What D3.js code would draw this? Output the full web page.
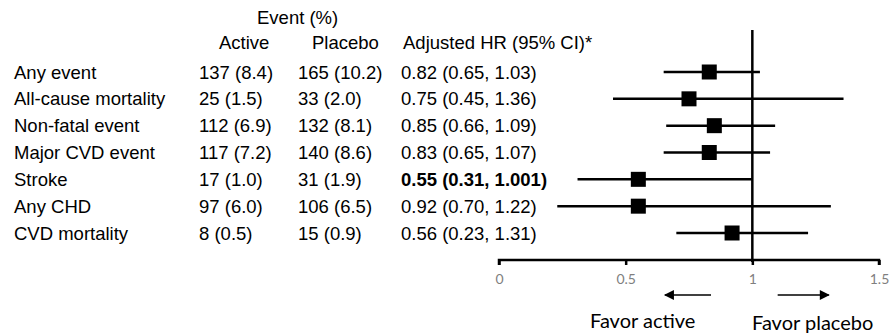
<!DOCTYPE html>
<html>
<head>
<meta charset="utf-8">
<script src="https://cdn.jsdelivr.net/npm/d3@7"></script>
<style>
  body { margin: 0; background: #fff; }
  .tbl { font-family: "Liberation Sans", Arial, sans-serif; font-size: 18.5px; fill: #000; }
  .calib { font-family: Lato, "Open Sans", sans-serif; }
</style>
</head>
<body>
<div id="chart"></div>
<script>
// row labels and table columns
let outcomes = ['Any event', 'All-cause mortality', 'Non-fatal event', 'Major CVD event', 'Stroke', 'Any CHD', 'CVD mortality'];
let activeEvents = ['137 (8.4)', '25 (1.5)', '112 (6.9)', '117 (7.2)', '17 (1.0)', '97 (6.0)', '8 (0.5)'];
let placeboEvents = ['165 (10.2)', '33 (2.0)', '132 (8.1)', '140 (8.6)', '31 (1.9)', '106 (6.5)', '15 (0.9)'];
let hrText = ['0.82 (0.65, 1.03)', '0.75 (0.45, 1.36)', '0.85 (0.66, 1.09)', '0.83 (0.65, 1.07)', '0.55 (0.31, 1.001)', '0.92 (0.70, 1.22)', '0.56 (0.23, 1.31)'];
let boldRows = ['Stroke'];

// plotted estimates as drawn in the figure
let hrPoint = [0.83, 0.75, 0.85, 0.83, 0.55, 0.55, 0.92];
let hrLow = [0.65, 0.45, 0.66, 0.65, 0.31, 0.23, 0.70];
let hrHigh = [1.03, 1.36, 1.09, 1.07, 1.00, 1.31, 1.22];

let xTicks = [0, 0.5, 1, 1.5];

let width = 891, height = 335;

let svg = d3.select('#chart').append('svg')
    .attr('width', width)
    .attr('height', height);

let x = d3.scaleLinear().domain([0, 1.5]).range([499, 879]);
let y = d3.scalePoint().domain(outcomes).range([72, 233]);

// table headers
svg.append('text').attr('class', 'tbl').attr('x', 257).attr('y', 24).text('Event (%)');
svg.append('text').attr('class', 'tbl').attr('x', 219).attr('y', 49).text('Active');
svg.append('text').attr('class', 'tbl').attr('x', 312).attr('y', 49).text('Placebo');
svg.append('text').attr('class', 'tbl').attr('x', 403).attr('y', 49).text('Adjusted HR (95% CI)*');

// table rows
let cols = [
  {x: 14, vals: outcomes},
  {x: 199, vals: activeEvents},
  {x: 298, vals: placeboEvents},
  {x: 401, vals: hrText}
];
cols.forEach(function(c, ci) {
  svg.append('g').selectAll('text')
      .data(c.vals)
    .enter().append('text')
      .attr('class', 'tbl')
      .attr('x', c.x)
      .attr('y', function(d, i) { return y(outcomes[i]); })
      .attr('dy', '0.36em')
      .style('font-weight', function(d, i) {
        return (ci == 3 && boldRows.indexOf(outcomes[i]) >= 0) ? 'bold' : null;
      })
      .text(function(d) { return d; });
});

// axis
let axis = svg.append('g')
    .attr('transform', 'translate(0,260)')
    .call(d3.axisBottom(x).tickValues(xTicks).tickSize(5).tickFormat(d3.format('')));
axis.select('.domain').attr('stroke-width', 2.5).attr('d', 'M499,5V0H879V5');
axis.selectAll('.tick line').attr('stroke-width', 2.5);
axis.selectAll('.tick text')
    .attr('class', 'calib')
    .attr('y', 14)
    .style('font-size', '14px')
    .style('fill', '#7f7f7f');

// reference line at HR = 1
svg.append('line')
    .attr('x1', x(1)).attr('x2', x(1))
    .attr('y1', 30).attr('y2', 262)
    .attr('stroke', '#000')
    .attr('stroke-width', 2.5);

// confidence intervals
svg.append('g').selectAll('line')
    .data(outcomes)
  .enter().append('line')
    .attr('x1', function(d, i) { return x(hrLow[i]); })
    .attr('x2', function(d, i) { return x(hrHigh[i]); })
    .attr('y1', function(d) { return y(d); })
    .attr('y2', function(d) { return y(d); })
    .attr('stroke', '#000')
    .attr('stroke-width', 2.5);

// point estimates
let sq = 15;
svg.append('g').selectAll('rect')
    .data(outcomes)
  .enter().append('rect')
    .attr('x', function(d, i) { return x(hrPoint[i]) - sq / 2; })
    .attr('y', function(d) { return y(d) - sq / 2; })
    .attr('width', sq)
    .attr('height', sq)
    .attr('fill', '#000');

// direction arrows
let defs = svg.append('defs');
defs.append('marker')
    .attr('id', 'arr')
    .attr('viewBox', '0 0 10 10')
    .attr('refX', 9).attr('refY', 5)
    .attr('markerWidth', 13).attr('markerHeight', 10)
    .attr('markerUnits', 'userSpaceOnUse')
    .attr('orient', 'auto')
  .append('path')
    .attr('d', 'M0,0L10,5L0,10Z')
    .attr('fill', '#000');

svg.append('line')
    .attr('x1', x(0.837)).attr('x2', x(0.655))
    .attr('y1', 295).attr('y2', 295)
    .attr('stroke', '#000').attr('stroke-width', 1.5)
    .attr('marker-end', 'url(#arr)');
svg.append('line')
    .attr('x1', x(1.1)).attr('x2', x(1.302))
    .attr('y1', 295).attr('y2', 295)
    .attr('stroke', '#000').attr('stroke-width', 1.5)
    .attr('marker-end', 'url(#arr)');

svg.append('text').attr('class', 'calib')
    .attr('x', 590).attr('y', 328)
    .style('font-size', '20px')
    .text('Favor active');
svg.append('text').attr('class', 'calib')
    .attr('x', 752).attr('y', 330)
    .style('font-size', '20px')
    .text('Favor placebo');
</script>
</body>
</html>
